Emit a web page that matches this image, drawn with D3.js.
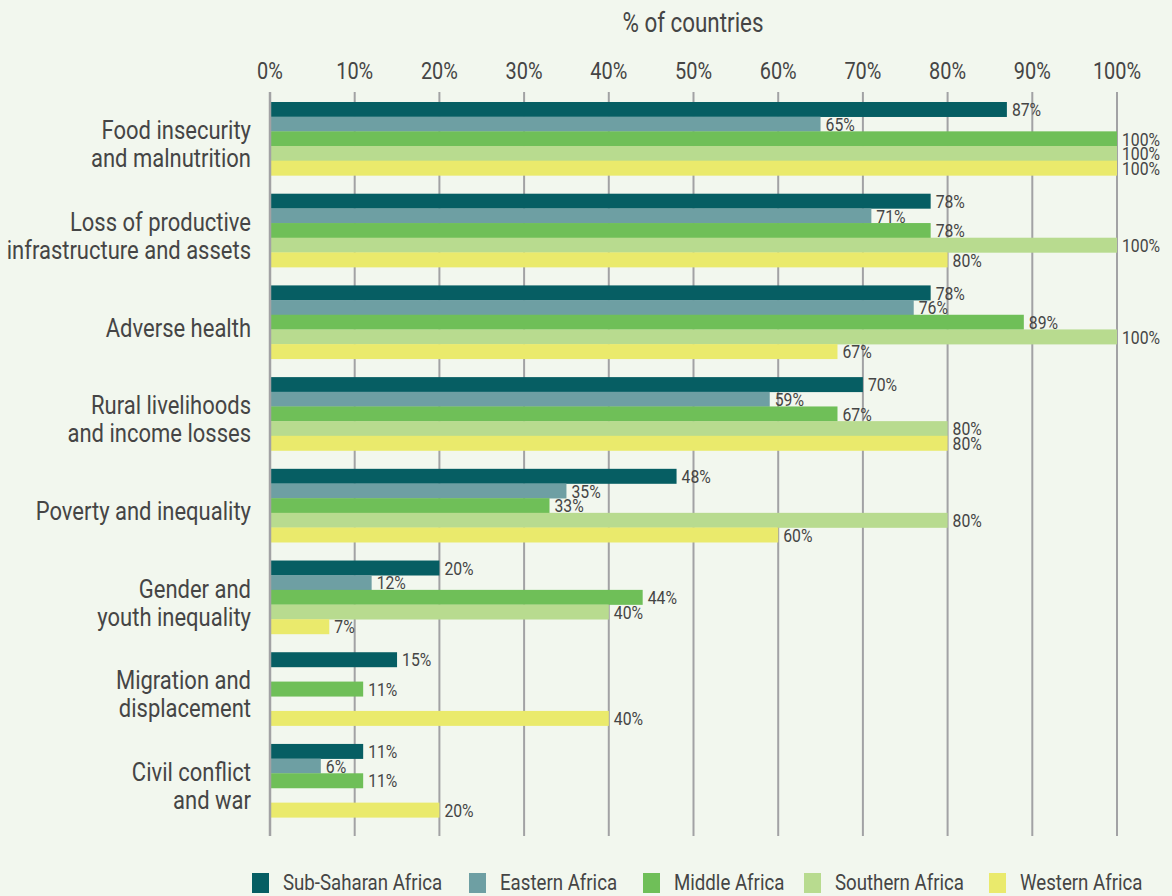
<!DOCTYPE html>
<html>
<head>
<meta charset="utf-8">
<script src="https://cdn.jsdelivr.net/npm/d3@7"></script>
<style>
  html, body { margin: 0; padding: 0; background: #f2f7ee; }
  svg { display: block; font-family: Roboto, "Liberation Sans", sans-serif; }
</style>
</head>
<body>
<svg id="chart" width="1172" height="896"></svg>
<script>
// chart data
const categories = [
    ["Food insecurity", "and malnutrition"],
    ["Loss of productive", "infrastructure and assets"],
    ["Adverse health"],
    ["Rural livelihoods", "and income losses"],
    ["Poverty and inequality"],
    ["Gender and", "youth inequality"],
    ["Migration and", "displacement"],
    ["Civil conflict", "and war"]
];

const seriesNames = ["Sub-Saharan Africa", "Eastern Africa", "Middle Africa", "Southern Africa", "Western Africa"];

const subSaharan = [87, 78, 78, 70, 48, 20, 15, 11];
const eastern = [65, 71, 76, 59, 35, 12, null, 6];
const middle = [100, 78, 89, 67, 33, 44, 11, 11];
const southern = [100, 100, 100, 80, 80, 40, null, null];
const western = [100, 80, 67, 80, 60, 7, 40, 20];

const ticks = [0, 10, 20, 30, 40, 50, 60, 70, 80, 90, 100];

const colors = ["#065e63", "#6e9fa3", "#6fbf58", "#b8db8f", "#eaea6c"];

const allSeries = [subSaharan, eastern, middle, southern, western];

const svg = d3.select("#chart");
const textColor = "#454545";
const squeeze = 0.83; // no condensed font installed, so narrow the glyphs by hand

// draws a (possibly multi-line) condensed text at x,y
const addText = (parent, px, py, size, anchor, lines, lineHeight) => {
    const g = parent.append("g")
        .attr("transform", `translate(${px},${py}) scale(${squeeze},1)`);
    const t = g.append("text")
        .attr("text-anchor", anchor)
        .attr("font-size", size)
        .attr("fill", textColor);
    lines.forEach((line, k) => {
        t.append("tspan")
            .attr("x", 0)
            .attr("y", (k - (lines.length - 1) / 2) * (lineHeight || 0))
            .attr("dy", "0.36em")
            .text(line);
    });
    return g;
};

const x = d3.scaleLinear()
    .domain([0, 100])
    .range([270, 1117]);

const y = d3.scaleBand()
    .domain(d3.range(categories.length))
    .range([102, 817.3])
    .paddingInner(0.2)
    .paddingOuter(0);

const ySub = d3.scaleBand()
    .domain(d3.range(seriesNames.length))
    .range([0, y.bandwidth()]);

// title
addText(svg, 693, 22, 27, "middle", ["% of countries"]);

// gridlines
svg.append("g")
    .selectAll("line")
    .data(ticks)
    .join("line")
    .attr("x1", d => x(d))
    .attr("x2", d => x(d))
    .attr("y1", 92)
    .attr("y2", 836)
    .attr("stroke", "#a2a2a4")
    .attr("stroke-width", 2);

// top axis labels
const tickLabels = svg.append("g");
ticks.forEach(d => addText(tickLabels, x(d), 70, 24, "middle", [d + "%"]));

// bars
const groups = svg.append("g")
    .selectAll("g")
    .data(categories)
    .join("g")
    .attr("transform", (d, i) => `translate(0,${y(i)})`);

const barData = i => allSeries.map((s, j) => ({ series: j, value: s[i] })).filter(d => d.value !== null);

groups.each(function (d, i) {
    const g = d3.select(this);
    const data = barData(i);

    g.selectAll("rect")
        .data(data)
        .join("rect")
        .attr("x", x(0))
        .attr("y", b => ySub(b.series))
        .attr("width", b => x(b.value) - x(0))
        .attr("height", ySub.bandwidth() + 0.3)
        .attr("fill", b => colors[b.series]);

    data.forEach(b => {
        addText(g, x(b.value) + 5, ySub(b.series) + ySub.bandwidth() / 2, 19, "start", [b.value + "%"]);
    });

    // category label
    addText(g, 251, y.bandwidth() / 2 + 5, 26.5, "end", d, 28);
});

// left axis line
svg.append("line")
    .attr("x1", x(0))
    .attr("x2", x(0))
    .attr("y1", 92)
    .attr("y2", 836)
    .attr("stroke", "#a2a2a4")
    .attr("stroke-width", 2.5);

// legend
const legendX = [252, 469, 643, 804, 989];
const legend = svg.append("g");

seriesNames.forEach((name, i) => {
    legend.append("rect")
        .attr("x", legendX[i])
        .attr("y", 873)
        .attr("width", 17)
        .attr("height", 20)
        .attr("fill", colors[i]);
    addText(legend, legendX[i] + 31, 882, 22.5, "start", [name]);
});
</script>
</body>
</html>
